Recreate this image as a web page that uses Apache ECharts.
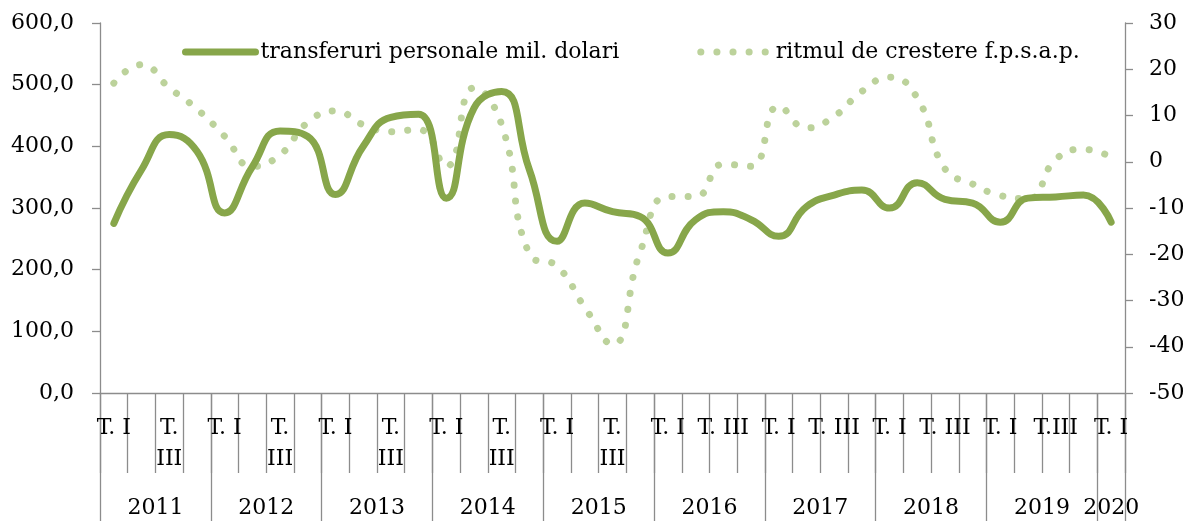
<!DOCTYPE html>
<html>
<head>
<meta charset="utf-8">
<script src="https://cdn.jsdelivr.net/npm/echarts@6/dist/echarts.min.js"></script>
<style>
  html, body { margin: 0; padding: 0; background: #fff; }
  #chart { width: 1190px; height: 521px; }
</style>
</head>
<body>
<div id="chart"></div>
<script>
// date (trimestre 2011 T. I - 2020 T. I)
const years = ["2011", "2012", "2013", "2014", "2015", "2016", "2017", "2018", "2019", "2020"];
const quarterLabels = [
  "T. I", "T. II", "T.\nIII", "T. IV",
  "T. I", "T. II", "T.\nIII", "T. IV",
  "T. I", "T. II", "T.\nIII", "T. IV",
  "T. I", "T. II", "T.\nIII", "T. IV",
  "T. I", "T. II", "T.\nIII", "T. IV",
  "T. I", "T. II", "T. III", "T. IV",
  "T. I", "T. II", "T. III", "T. IV",
  "T. I", "T. II", "T. III", "T. IV",
  "T. I", "T. II", "T.III", "T. IV",
  "T. I"
];
const transferuri = [
  275, 362, 419, 392, 292, 367, 425, 416, 322, 400, 447, 452,
  316, 462, 489, 362, 246, 308, 294, 286, 227, 281, 294, 281,
  254, 302, 321, 329, 300, 341, 314, 308, 277, 316, 318, 321,
  277
];
const ritmul = [
  17, 21, 16, 11.4, 5.5, -1, 1.5, 8.5, 11, 8, 6.5, 7,
  -1, 16, 8, -20, -22.6, -31.5, -39.5, -19.5, -7.5, -7.5, -0.5, -1,
  12, 7.3, 9.8, 15.2, 18.3, 13.8, -1.5, -4.8, -7.3, -8, 0.5, 2.7,
  1.0
];
const leftTicks = { min: 0, max: 600, step: 100 };
const rightTicks = { min: -50, max: 30, step: 10 };

const FONT = "DejaVu Serif";
const AXIS_GRAY = "#8c8c8c";

// axa anilor: jumatati de trimestru, ca eticheta sa cada la mijlocul anului
const halfSlots = quarterLabels.length * 2 + 1;
const yearSlots = new Array(halfSlots).fill("");
const yearBounds = [];
years.forEach((y, j) => {
  const startQ = j * 4;
  const endQ = Math.min(startQ + 4, quarterLabels.length);
  yearSlots[startQ + endQ] = y;
  yearBounds.push(startQ * 2);
});
yearBounds.push(quarterLabels.length * 2);

const chart = echarts.init(document.getElementById("chart"));
chart.setOption({
  animation: false,
  backgroundColor: "#fff",
  textStyle: { fontFamily: FONT },
  legend: {
    left: 177,
    top: 36,
    itemWidth: 70,
    itemHeight: 14,
    itemGap: 78,
    itemStyle: { opacity: 0 },
    lineStyle: { width: "inherit" },
    textStyle: { fontFamily: FONT, fontSize: 22, color: "#000" },
    data: ["transferuri personale mil. dolari", "ritmul de crestere f.p.s.a.p."]
  },
  grid: { left: 100, right: 65, top: 23, bottom: 128, containLabel: false, outerBoundsMode: "none" },
  xAxis: [
    {
      type: "category",
      data: quarterLabels,
      axisLine: { onZero: false, lineStyle: { color: AXIS_GRAY, width: 1.3 } },
      axisTick: { show: true, interval: 0, length: 80, lineStyle: { color: AXIS_GRAY, width: 1.3 } },
      axisLabel: {
        interval: 1,
        margin: 20,
        fontFamily: FONT,
        fontSize: 22,
        lineHeight: 31,
        color: "#000"
      }
    },
    {
      type: "category",
      position: "bottom",
      boundaryGap: false,
      data: yearSlots,
      axisLine: { show: false, onZero: false },
      axisTick: {
        show: true,
        interval: (i) => yearBounds.indexOf(i) >= 0,
        length: 140,
        lineStyle: { color: AXIS_GRAY, width: 1.3 }
      },
      axisLabel: {
        interval: 0,
        margin: 100,
        fontFamily: FONT,
        fontSize: 22,
        lineHeight: 31,
        color: "#000"
      }
    }
  ],
  yAxis: [
    {
      type: "value",
      min: leftTicks.min,
      max: leftTicks.max,
      interval: leftTicks.step,
      splitLine: { show: false },
      axisLine: { show: true, lineStyle: { color: AXIS_GRAY, width: 1.3 } },
      axisTick: { show: true, length: 8, lineStyle: { color: AXIS_GRAY, width: 1.3 } },
      axisLabel: {
        margin: 26,
        fontFamily: FONT,
        fontSize: 22,
        color: "#000",
        formatter: (v) => v.toFixed(1).replace(".", ",")
      }
    },
    {
      type: "value",
      position: "right",
      min: rightTicks.min,
      max: rightTicks.max,
      interval: rightTicks.step,
      splitLine: { show: false },
      axisLine: { show: true, lineStyle: { color: AXIS_GRAY, width: 1.3 } },
      axisTick: { show: true, length: 8, lineStyle: { color: AXIS_GRAY, width: 1.3 } },
      axisLabel: {
        margin: 24,
        fontFamily: FONT,
        fontSize: 22,
        color: "#000"
      }
    }
  ],
  series: [
    {
      name: "transferuri personale mil. dolari",
      type: "line",
      xAxisIndex: 0,
      yAxisIndex: 0,
      data: transferuri,
      smooth: 0.5,
      symbol: "none",
      lineStyle: { color: "#87a64a", width: 7, cap: "round", join: "round" },
      itemStyle: { color: "#87a64a" },
      z: 3
    },
    {
      name: "ritmul de crestere f.p.s.a.p.",
      type: "line",
      xAxisIndex: 0,
      yAxisIndex: 1,
      data: ritmul,
      smooth: 0.5,
      symbol: "none",
      lineStyle: { color: "#bcd29b", width: 7, type: [0.1, 16], cap: "round" },
      itemStyle: { color: "#bcd29b" },
      z: 2
    }
  ]
});
</script>
</body>
</html>
